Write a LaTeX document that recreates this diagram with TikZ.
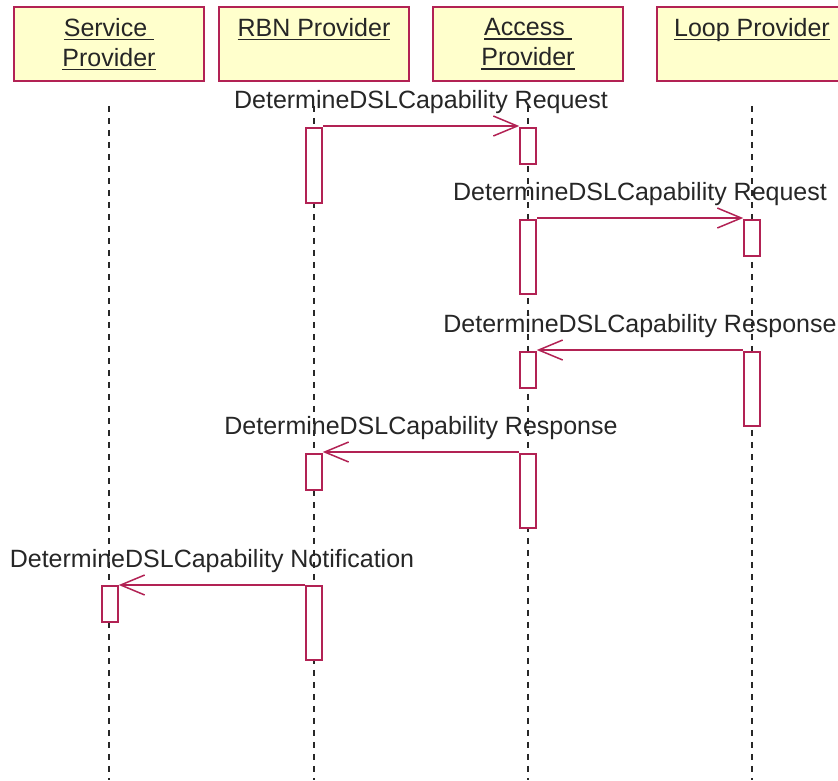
\documentclass[tikz,border=0pt]{standalone}
\usepackage{fontspec}
\setmainfont{Liberation Sans}
\usetikzlibrary{arrows.meta}
\definecolor{umlred}{RGB}{178,34,84}
\definecolor{umlyellow}{RGB}{255,255,204}
\definecolor{lifegray}{RGB}{40,40,40}
\newcommand{\uln}[1]{\setbox0\hbox{#1}\rlap{\rule[-4pt]{\wd0}{1.3pt}}\box0}

\begin{document}
\begin{tikzpicture}[x=1pt,y=-1pt]
\tikzset{>={Straight Barb[length=24pt,width=20pt]},
  every node/.style={font=\fontsize{25}{30}\selectfont,text=black!85},
  obj/.style={draw=umlred,fill=umlyellow,line width=1.5pt,minimum width=190pt,minimum height=74pt,inner sep=0pt,align=center},
  act/.style={draw=umlred,fill=white,line width=1.5pt,minimum width=16pt,inner sep=0pt,anchor=north},
  life/.style={draw=lifegray,line width=2pt,dash pattern=on 6pt off 6pt},
  msg/.style={->,draw=umlred,line width=1.5pt},
  lbl/.style={anchor=base,yshift=18pt}}
\useasboundingbox (0,0) rectangle (838,780);
\clip (0,0) rectangle (838,780);
\coordinate (bot) at (0,780);

% objects
\node[obj] (sp) at (109,44) {\uln{Service\ }\\\uln{Provider}};
\node[obj] (rbn) at (314,44) {\uln{RBN Provider}\\\uln{\vphantom{P}}};
\node[obj] (ap) at (528,44) {\uln{Access\ }\\\uln{Provider}};
\node[obj] (lp) at (752,44) {\uln{Loop Provider}\\\uln{\vphantom{P}}};

% lifelines
\foreach \n in {sp,rbn,ap,lp}
  \draw[life] ([yshift=-24pt]\n.south) -- (\n.south |- bot);

% activations
\node[act,minimum height=75pt] (r1) at (314,127) {};
\node[act,minimum height=36pt] (a1) at (528,127) {};
\node[act,minimum height=74pt] (a2) at (528,219) {};
\node[act,minimum height=36pt] (l1) at (752,219) {};
\node[act,minimum height=36pt] (a3) at (528,351) {};
\node[act,minimum height=74pt] (l2) at (752,351) {};
\node[act,minimum height=36pt] (r2) at (314,453) {};
\node[act,minimum height=74pt] (a4) at (528,453) {};
\node[act,minimum height=36pt] (s1) at (110,585) {};
\node[act,minimum height=74pt] (r3) at (314,585) {};

% messages
\draw[msg] ([yshift=1pt]r1.north east) -- node[lbl] {DetermineDSLCapability Request} ([yshift=1pt]a1.north west);
\draw[msg] ([yshift=1pt]a2.north east) -- node[lbl] {DetermineDSLCapability Request} ([yshift=1pt]l1.north west);
\draw[msg] ([yshift=1pt]l2.north west) -- node[lbl] {DetermineDSLCapability Response} ([yshift=1pt]a3.north east);
\draw[msg] ([yshift=1pt]a4.north west) -- node[lbl] {DetermineDSLCapability Response} ([yshift=1pt]r2.north east);
\draw[msg] (r3.north west) -- node[lbl] {DetermineDSLCapability Notification} (s1.north east);

\end{tikzpicture}
\end{document}
